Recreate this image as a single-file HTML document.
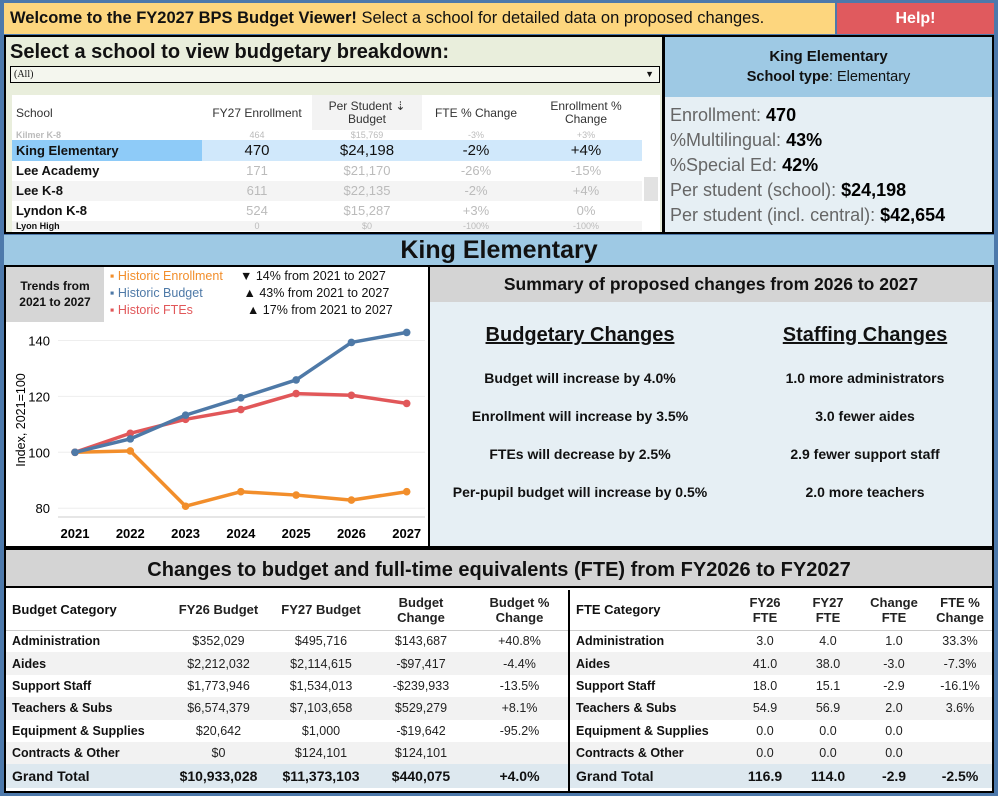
<!DOCTYPE html>
<html><head><meta charset="utf-8">
<style>
*{box-sizing:border-box;margin:0;padding:0}
body{width:998px;height:796px;background:#4d79ab;font-family:"Liberation Sans",sans-serif;position:relative;overflow:hidden;color:#111}
.abs{position:absolute}
.c{text-align:center}
table{border-collapse:collapse;table-layout:fixed}
.st td{height:20px;font-size:13px;color:#bbb;text-align:center;white-space:nowrap;overflow:hidden;background:#fff;line-height:14px}
.st td.n{color:#111;text-align:left;padding-left:4px;font-weight:bold}
.st tr.g td{background:#f4f4f4}
.st tr.p td{height:10px;font-size:9px;line-height:9px}
.bt td{font-size:12.5px;height:22.4px;white-space:nowrap;text-align:center;color:#222}
.bt td.n{text-align:left;padding-left:6px;font-weight:bold;color:#111}
.bt tr.h td{height:40px;font-weight:bold;font-size:13px;line-height:15px;border-bottom:1px solid #ccc}
.bt tr.s td{background:#f2f2f2}
.bt tr.g td{background:#dde8ef;font-weight:bold;font-size:14px;height:24px;color:#111}
</style></head><body>
<div class="abs" style="left:4px;top:3px;width:831px;height:31px;background:#fdd67e;font-size:16.5px;line-height:31px;padding-left:6px"><b>Welcome to the FY2027 BPS Budget Viewer!</b> Select a school for detailed data on proposed changes.</div>
<div class="abs c" style="left:837px;top:3px;width:157px;height:31px;background:#e05a5e;color:#fff;font-weight:bold;font-size:16px;line-height:31px">Help!</div>

<div class="abs" style="left:4px;top:35px;width:660px;height:199px;background:#e9eedc;border:2px solid #000">
 <div class="abs" style="left:4px;top:4px;font-size:20px;font-weight:bold">Select a school to view budgetary breakdown:</div>
 <div class="abs" style="left:4px;top:29px;width:650px;height:17px;border:1px solid #000;background:#f4f6ee;font-family:'Liberation Serif',serif;font-size:10px;line-height:15px;padding-left:3px">(All)<span style="position:absolute;right:5px;font-size:9px">▼</span></div>
 <div class="abs" style="left:6px;top:58px;width:648px;height:137px;background:#fff"></div>
 <table class="abs st" style="left:6px;top:58px;width:630px">
  <colgroup><col style="width:190px"><col style="width:110px"><col style="width:110px"><col style="width:108px"><col style="width:112px"></colgroup>
  <tr><td class="n" style="height:35px;font-weight:normal;font-size:12px;color:#333">School</td><td style="font-size:12px;color:#333;height:35px">FY27 Enrollment</td><td style="font-size:12px;color:#333;background:#f3f3f3;line-height:13px">Per Student ⇣<br>Budget</td><td style="font-size:12px;color:#333">FTE % Change</td><td style="font-size:12px;color:#333;line-height:13px">Enrollment %<br>Change</td></tr>
  <tr class="p"><td class="n" style="color:#bbb">Kilmer K-8</td><td>464</td><td>$15,769</td><td>-3%</td><td>+3%</td></tr>
  <tr><td class="n" style="background:#8ecbf8;height:21px">King Elementary</td><td style="background:#d0e8fb;color:#111;font-size:15px">470</td><td style="background:#d0e8fb;color:#111;font-size:15px">$24,198</td><td style="background:#d0e8fb;color:#111;font-size:15px">-2%</td><td style="background:#d0e8fb;color:#111;font-size:15px">+4%</td></tr>
  <tr><td class="n">Lee Academy</td><td>171</td><td>$21,170</td><td>-26%</td><td>-15%</td></tr>
  <tr class="g"><td class="n">Lee K-8</td><td>611</td><td>$22,135</td><td>-2%</td><td>+4%</td></tr>
  <tr><td class="n">Lyndon K-8</td><td>524</td><td>$15,287</td><td>+3%</td><td>0%</td></tr>
  <tr class="p g"><td class="n">Lyon High</td><td>0</td><td>$0</td><td>-100%</td><td>-100%</td></tr>
 </table>
 <div class="abs" style="left:638px;top:140px;width:14px;height:24px;background:#e2e2e2"></div>
</div>

<div class="abs" style="left:663px;top:35px;width:331px;height:199px;border:2px solid #000;background:#e6eff4">
 <div class="abs c" style="left:0;top:0;width:327px;height:60px;background:#9ec9e4;padding-top:11px">
  <div style="font-size:15px;font-weight:bold">King Elementary</div>
  <div style="font-size:14.5px;margin-top:4px"><b>School type</b>: Elementary</div>
 </div>
 <div class="abs" style="left:5px;top:66px;font-size:18px;line-height:25px;color:#666">
  <div>Enrollment: <b style="color:#000">470</b></div>
  <div>%Multilingual: <b style="color:#000">43%</b></div>
  <div>%Special Ed: <b style="color:#000">42%</b></div>
  <div>Per student (school): <b style="color:#000">$24,198</b></div>
  <div>Per student (incl. central): <b style="color:#000">$42,654</b></div>
 </div>
</div>

<div class="abs c" style="left:4px;top:235px;width:990px;height:31px;background:#9ec9e4;font-size:25px;font-weight:bold;line-height:31px">King Elementary</div>

<div class="abs" style="left:4px;top:265px;width:426px;height:283px;background:#fff;border:2px solid #000"></div>
<div class="abs c" style="left:6px;top:267px;width:98px;height:55px;background:#d6d6d6;font-size:12px;font-weight:bold;line-height:16px;padding-top:11px">Trends from<br>2021 to 2027</div>
<div class="abs" style="left:110px;top:268px;font-size:12.5px;line-height:17px">
 <div style="color:#f28e2b">▪ Historic Enrollment</div>
 <div style="color:#4e79a7">▪ Historic Budget</div>
 <div style="color:#e15759">▪ Historic FTEs</div>
</div>
<div class="abs" style="left:240px;top:268px;font-size:12.5px;line-height:17px">
 <div>▼ 14% from 2021 to 2027</div>
 <div>&nbsp;▲ 43% from 2021 to 2027</div>
 <div>&nbsp;&nbsp;▲ 17% from 2021 to 2027</div>
</div>
<svg class="abs" id="chart" style="left:0;top:0" width="998" height="796"></svg>

<div class="abs" style="left:428px;top:265px;width:566px;height:283px;background:#e6eff4;border:2px solid #000">
 <div class="c" style="height:35px;background:#d4d4d4;font-size:17.5px;line-height:35px;font-weight:bold">Summary of proposed changes from 2026 to 2027</div>
 <div class="abs c" style="left:0;top:57px;width:300px;font-size:14px;font-weight:bold">
  <div style="font-size:20px;text-decoration:underline;margin-bottom:23px">Budgetary Changes</div>
  <div style="height:38px">Budget will increase by 4.0%</div>
  <div style="height:38px">Enrollment will increase by 3.5%</div>
  <div style="height:38px">FTEs will decrease by 2.5%</div>
  <div style="height:38px">Per-pupil budget will increase by 0.5%</div>
 </div>
 <div class="abs c" style="left:290px;top:57px;width:290px;font-size:14px;font-weight:bold">
  <div style="font-size:20px;text-decoration:underline;margin-bottom:23px">Staffing Changes</div>
  <div style="height:38px">1.0 more administrators</div>
  <div style="height:38px">3.0 fewer aides</div>
  <div style="height:38px">2.9 fewer support staff</div>
  <div style="height:38px">2.0 more teachers</div>
 </div>
</div>

<div class="abs" style="left:4px;top:548px;width:990px;height:245px;background:#fff;border:2px solid #000">
 <div class="c" style="height:38px;background:#d4d4d4;font-size:20px;line-height:40px;font-weight:bold;border-bottom:2px solid #000">Changes to budget and full-time equivalents (FTE) from FY2026 to FY2027</div>
 <table class="abs bt" style="left:0;top:40px;width:562px">
  <colgroup><col style="width:160px"><col style="width:105px"><col style="width:100px"><col style="width:100px"><col style="width:97px"></colgroup>
  <tr class="h"><td class="n">Budget Category</td><td>FY26 Budget</td><td>FY27 Budget</td><td>Budget<br>Change</td><td>Budget %<br>Change</td></tr>
  <tr><td class="n">Administration</td><td>$352,029</td><td>$495,716</td><td>$143,687</td><td>+40.8%</td></tr>
  <tr class="s"><td class="n">Aides</td><td>$2,212,032</td><td>$2,114,615</td><td>-$97,417</td><td>-4.4%</td></tr>
  <tr><td class="n">Support Staff</td><td>$1,773,946</td><td>$1,534,013</td><td>-$239,933</td><td>-13.5%</td></tr>
  <tr class="s"><td class="n">Teachers &amp; Subs</td><td>$6,574,379</td><td>$7,103,658</td><td>$529,279</td><td>+8.1%</td></tr>
  <tr><td class="n">Equipment &amp; Supplies</td><td>$20,642</td><td>$1,000</td><td>-$19,642</td><td>-95.2%</td></tr>
  <tr class="s"><td class="n">Contracts &amp; Other</td><td>$0</td><td>$124,101</td><td>$124,101</td><td></td></tr>
  <tr class="g"><td class="n">Grand Total</td><td>$10,933,028</td><td>$11,373,103</td><td>$440,075</td><td>+4.0%</td></tr>
 </table>
 <div class="abs" style="left:562px;top:40px;width:2px;height:203px;background:#000"></div>
 <table class="abs bt" style="left:564px;top:40px;width:422px">
  <colgroup><col style="width:164px"><col style="width:62px"><col style="width:64px"><col style="width:68px"><col style="width:64px"></colgroup>
  <tr class="h"><td class="n">FTE Category</td><td>FY26<br>FTE</td><td>FY27<br>FTE</td><td>Change<br>FTE</td><td>FTE %<br>Change</td></tr>
  <tr><td class="n">Administration</td><td>3.0</td><td>4.0</td><td>1.0</td><td>33.3%</td></tr>
  <tr class="s"><td class="n">Aides</td><td>41.0</td><td>38.0</td><td>-3.0</td><td>-7.3%</td></tr>
  <tr><td class="n">Support Staff</td><td>18.0</td><td>15.1</td><td>-2.9</td><td>-16.1%</td></tr>
  <tr class="s"><td class="n">Teachers &amp; Subs</td><td>54.9</td><td>56.9</td><td>2.0</td><td>3.6%</td></tr>
  <tr><td class="n">Equipment &amp; Supplies</td><td>0.0</td><td>0.0</td><td>0.0</td><td></td></tr>
  <tr class="s"><td class="n">Contracts &amp; Other</td><td>0.0</td><td>0.0</td><td>0.0</td><td></td></tr>
  <tr class="g"><td class="n">Grand Total</td><td>116.9</td><td>114.0</td><td>-2.9</td><td>-2.5%</td></tr>
 </table>
</div>

<script>
const years = [2021, 2022, 2023, 2024, 2025, 2026, 2027];
const enrollment = [100, 100.5, 80.7, 85.9, 84.7, 82.9, 85.9];
const budget = [100, 104.8, 113.3, 119.5, 125.9, 139.3, 142.9];
const ftes = [100, 106.8, 111.8, 115.3, 121.0, 120.4, 117.5];
const yTicks = [80, 100, 120, 140];

const svg = document.getElementById('chart');
const NS = 'http://www.w3.org/2000/svg';
function xS(i){ return 75 + i * (406.7 - 75) / (years.length - 1); }
function yS(v){ return 452.3 - (v - 100) * 2.795; }
function mk(tag, attrs){ const e = document.createElementNS(NS, tag); for (const k in attrs) e.setAttribute(k, attrs[k]); svg.appendChild(e); return e; }

yTicks.forEach(t => {
  const g = mk('line', {x1: 58, x2: 425, y1: yS(t), y2: yS(t), stroke: '#eee', 'stroke-width': 1});
  
  
  const tx = mk('text', {x: 50, y: yS(t) + 5, 'text-anchor': 'end', 'font-size': 13, 'font-family': 'Liberation Sans, sans-serif'});
  tx.textContent = t;
  
  
});
const ax = mk('line', {x1: 58, x2: 425, y1: 517, y2: 517, stroke: '#ccc', 'stroke-width': 1});


years.forEach((yr, i) => {
  const tx = mk('text', {x: xS(i), y: 538, 'text-anchor': 'middle', 'font-size': 13, 'font-weight': 'bold', 'font-family': 'Liberation Sans, sans-serif'});
  tx.textContent = yr;
  
  
});
const yl = mk('text', {x: 0, y: 0, transform: 'translate(25,420) rotate(-90)', 'text-anchor': 'middle', 'font-size': 12.5, 'font-family': 'Liberation Sans, sans-serif'});
yl.textContent = 'Index, 2021=100';



function series(vals, color, name){
  const p = mk('polyline', {points: vals.map((v, i) => xS(i) + ',' + yS(v)).join(' '), fill: 'none', stroke: color, 'stroke-width': 3.5, 'stroke-linejoin': 'round'});
  
  
  vals.forEach((v, i) => {
    const c = mk('circle', {cx: xS(i), cy: yS(v), r: 3.8, fill: color});
    
    
  });
}
series(enrollment, '#f28e2b', 'enrollment');
series(ftes, '#e15759', 'ftes');
series(budget, '#4e79a7', 'budget');
</script>
</body></html>
